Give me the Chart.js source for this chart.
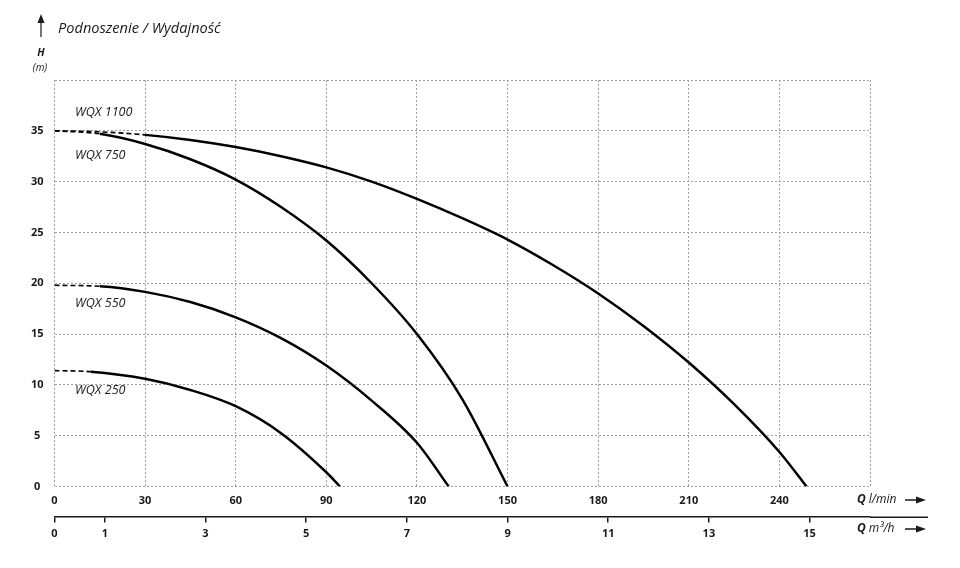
<!DOCTYPE html>
<html>
<head>
<meta charset="utf-8">
<script src="https://cdn.jsdelivr.net/npm/chart.js@4.4.1/dist/chart.umd.min.js"></script>
<style>
  html, body { margin: 0; padding: 0; background: #ffffff; }
  #wrap { position: relative; width: 960px; height: 568px; }
</style>
</head>
<body>
<div id="wrap"><canvas id="c" width="960" height="568"></canvas></div>
<script>
// ---- data ----
const qTicksLmin = [0, 30, 60, 90, 120, 150, 180, 210, 240, 270];
const qTicksM3h = [0, 1, 3, 5, 7, 9, 11, 13, 15];
const hTicks = [0, 5, 10, 15, 20, 25, 30, 35, 40];

const seriesNames = ['WQX 1100', 'WQX 750', 'WQX 550', 'WQX 250'];

const wqx1100Q = [0, 15, 30, 45, 60, 75, 90, 105, 120, 135, 150, 165, 180, 195, 210, 225, 240, 249];
const wqx1100H = [35, 34.9, 34.6, 34.1, 33.4, 32.5, 31.4, 30.0, 28.3, 26.4, 24.3, 21.8, 19.0, 15.8, 12.2, 8.1, 3.4, 0];

const wqx750Q = [0, 15, 30, 45, 60, 75, 90, 105, 120, 135, 150];
const wqx750H = [35, 34.7, 33.7, 32.2, 30.2, 27.5, 24.2, 20.0, 15.0, 8.6, 0];

const wqx550Q = [0, 15, 30, 45, 60, 75, 90, 105, 120, 130.5];
const wqx550H = [19.8, 19.7, 19.15, 18.15, 16.65, 14.6, 11.9, 8.45, 4.3, 0];

const wqx250Q = [0, 12, 30, 45, 60, 75, 90, 94.5];
const wqx250H = [11.4, 11.3, 10.6, 9.5, 7.9, 5.25, 1.4, 0];

// index of the last point of the dashed (extrapolated) start of each curve
const dashedUntil = [2, 1, 1, 1];

const FONT = '"Open Sans", "Noto Sans", sans-serif';

function pts(q, h) { return q.map((v, i) => ({ x: v, y: h[i] })); }

function makeDataset(name, q, h, dashEnd) {
  return {
    label: name,
    data: pts(q, h),
    borderColor: '#000000',
    borderWidth: 2.5,
    pointRadius: 0,
    fill: false,
    cubicInterpolationMode: 'monotone',
    segment: {
      borderDash: ctx => ctx.p1DataIndex <= dashEnd ? [5, 3] : undefined,
      borderWidth: ctx => ctx.p1DataIndex <= dashEnd ? 1.6 : 2.5
    }
  };
}

const decorPlugin = {
  id: 'decor',
  afterDraw(chart) {
    const ctx = chart.ctx;
    const xs = chart.scales.x, ys = chart.scales.y, x2 = chart.scales.x2;
    ctx.save();
    ctx.fillStyle = '#1a1a1a';
    ctx.strokeStyle = '#1a1a1a';

    // extend the m3/h axis line to the right
    ctx.lineWidth = 1.5;
    ctx.beginPath();
    ctx.moveTo(chart.chartArea.right, x2.top + 0.75);
    ctx.lineTo(928, x2.top + 0.75);
    ctx.stroke();

    // title with up arrow
    ctx.textBaseline = 'middle';
    ctx.textAlign = 'left';
    ctx.font = 'italic 14.6px ' + FONT;
    ctx.fillText('Podnoszenie / Wydajność', 58, 29);
    ctx.lineWidth = 1.2;
    ctx.beginPath(); ctx.moveTo(41, 37); ctx.lineTo(41, 21); ctx.stroke();
    ctx.beginPath(); ctx.moveTo(37.5, 23); ctx.lineTo(44.5, 23); ctx.lineTo(41, 14); ctx.closePath(); ctx.fill();

    ctx.textAlign = 'center';
    ctx.font = 'italic bold 10.5px ' + FONT;
    ctx.fillText('H', 41, 53);
    ctx.font = 'italic 10px ' + FONT;
    ctx.fillText('(m)', 40, 68);

    // axis captions
    function caption(y, unit) {
      ctx.textAlign = 'left';
      ctx.font = 'italic bold 12px ' + FONT;
      ctx.fillText('Q', 857, y);
      const w = ctx.measureText('Q').width;
      ctx.font = 'italic 12px ' + FONT;
      ctx.fillText(unit, 857 + w + 3, y);
      ctx.lineWidth = 1.5;
      ctx.beginPath(); ctx.moveTo(905, y); ctx.lineTo(918, y); ctx.stroke();
      ctx.beginPath(); ctx.moveTo(916, y - 3.5); ctx.lineTo(916, y + 3.5); ctx.lineTo(926, y); ctx.closePath(); ctx.fill();
    }
    caption(500, 'l/min');
    caption(529, 'm³/h');

    // series labels (anchored in data coordinates)
    const labelPos = [[6.8, 36.8], [6.8, 32.6], [6.8, 18.0], [6.8, 9.5]];
    ctx.textAlign = 'left';
    ctx.font = 'italic 12.6px ' + FONT;
    seriesNames.forEach((n, i) => {
      ctx.fillText(n, xs.getPixelForValue(labelPos[i][0]), ys.getPixelForValue(labelPos[i][1]));
    });
    ctx.restore();
  }
};

new Chart(document.getElementById('c'), {
  type: 'line',
  data: {
    datasets: [
      makeDataset(seriesNames[0], wqx1100Q, wqx1100H, dashedUntil[0]),
      makeDataset(seriesNames[1], wqx750Q, wqx750H, dashedUntil[1]),
      makeDataset(seriesNames[2], wqx550Q, wqx550H, dashedUntil[2]),
      makeDataset(seriesNames[3], wqx250Q, wqx250H, dashedUntil[3])
    ]
  },
  options: {
    responsive: false,
    animation: false,
    layout: { padding: { top: 80, right: 90, left: 0, bottom: 0 } },
    plugins: { legend: { display: false }, tooltip: { enabled: false }, title: { display: false } },
    scales: {
      x: {
        type: 'linear',
        position: 'bottom',
        weight: 0,
        min: 0, max: 270,
        afterBuildTicks: s => { s.ticks = qTicksLmin.map(v => ({ value: v })); },
        afterFit: s => { s.height = 30; },
        grid: { color: '#a0a0a0', lineWidth: 1, drawTicks: false },
        border: { display: false, dash: [2, 2] },
        ticks: {
          color: '#1a1a1a', padding: 8, maxRotation: 0, autoSkip: false,
          font: { family: FONT, size: 11, weight: 'bold' },
          callback: v => v === 270 ? '' : String(v)
        }
      },
      x2: {
        type: 'linear',
        position: 'bottom',
        weight: 1,
        min: 0, max: 270 / (1000 / 60),
        afterBuildTicks: s => { s.ticks = qTicksM3h.map(v => ({ value: v })); },
        afterFit: s => { s.height = 51.5; },
        grid: { drawOnChartArea: false, drawTicks: true, tickLength: 6, color: '#1a1a1a', lineWidth: 1.5 },
        border: { display: true, color: '#1a1a1a', width: 1.5 },
        ticks: {
          color: '#1a1a1a', padding: 5, maxRotation: 0, autoSkip: false,
          font: { family: FONT, size: 11, weight: 'bold' },
          callback: v => String(v)
        }
      },
      y: {
        type: 'linear',
        min: 0, max: 40,
        afterBuildTicks: s => { s.ticks = hTicks.map(v => ({ value: v })); },
        afterFit: s => { s.width = 54.5; },
        grid: { color: '#a0a0a0', lineWidth: 1, drawTicks: false },
        border: { display: false, dash: [2, 2] },
        ticks: {
          color: '#1a1a1a', padding: 11, crossAlign: 'center',
          font: { family: FONT, size: 11, weight: 'bold' },
          callback: v => v === 40 ? '' : String(v)
        }
      }
    }
  },
  plugins: [decorPlugin]
});
</script>
</body>
</html>
